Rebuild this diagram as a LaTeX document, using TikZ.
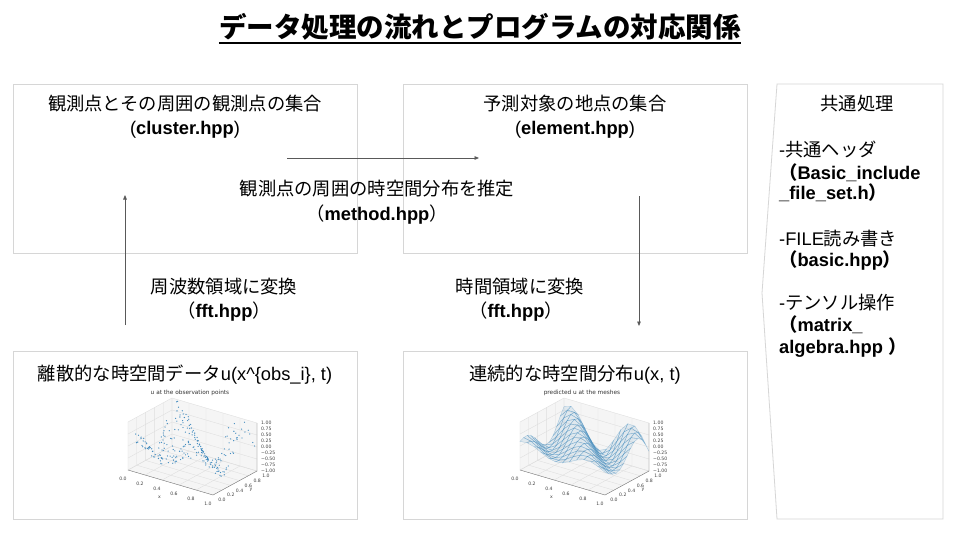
\documentclass[tikz,border=0pt]{standalone}
\usepackage{fontspec}
\setmainfont{Liberation Sans}
\newfontfamily\jp{Noto Sans CJK JP}
\newfontfamily\plotfont{DejaVu Sans}
\usetikzlibrary{arrows.meta}

\definecolor{c0}{HTML}{1F77B4}
\definecolor{boxgray}{HTML}{D6D6D6}
\definecolor{arrgray}{HTML}{595959}

% frame of a 3-D axes box: panes, grid, axis lines and tick labels
\newcommand\plotframe[1]{%
  \fill[pane] (0,0,-1) -- (1,0,-1) -- (1,1,-1) -- (0,1,-1) -- cycle;
  \fill[pane] (0,0,-1) -- (0,1,-1) -- (0,1,1) -- (0,0,1) -- cycle;
  \fill[pane] (0,1,-1) -- (1,1,-1) -- (1,1,1) -- (0,1,1) -- cycle;
  \foreach \t in {0,0.2,0.4,0.6,0.8,1}{%
    \draw[gridl] (\t,0,-1) -- (\t,1,-1) -- (\t,1,1);
    \draw[gridl] (0,\t,1) -- (0,\t,-1) -- (1,\t,-1);
  }
  \foreach \t in {-1,-0.5,0,0.5,1}{%
    \draw[gridl] (0,0,\t) -- (0,1,\t) -- (1,1,\t);
  }
  \draw[axl] (0,0,-1) -- (1,0,-1) -- (1,1,-1) -- (1,1,1);
  \foreach \t/\l [count=\k] in {0/0.0,0.2/0.2,0.4/0.4,0.6/0.6,0.8/0.8,1/1.0}{%
    \node[tick, xshift=-5pt, yshift=-9pt] (#1xt\k) at (\t,0,-1) {\l};
    \node[tick, xshift=9pt, yshift=-5pt] (#1yt\k) at (1,\t,-1) {\l};
  }
  \foreach \v/\l [count=\k] in {1/1.00,0.75/0.75,0.5/0.50,0.25/0.25,0/0.00,
      -0.25/−0.25,-0.5/−0.50,-0.75/−0.75,-1/−1.00}{%
    \node[tick, anchor=west, xshift=4pt] (#1zt\k) at (1,1,\v) {\l};
  }
  \node[tick, xshift=-11pt, yshift=-15pt] (#1xl) at (0.5,0,-1) {x};
  \node[tick, xshift=16pt, yshift=-7pt] (#1yl) at (1,0.5,-1) {y};
}

\begin{document}
\begin{tikzpicture}[x=1pt,y=-1pt,
  box/.style={draw=boxgray, line width=0.8pt},
  lbl/.style={inner sep=0pt, anchor=base, font=\fontsize{18.3}{22}\selectfont},
  lblw/.style={lbl, anchor=base west},
  arr/.style={draw=arrgray, line width=0.75pt, -{Triangle[length=4.5pt,width=3.6pt]}},
  pane/.style={fill=black!4},
  gridl/.style={draw=black!13, line width=0.35pt},
  axl/.style={draw=black!55, line width=0.35pt},
  tick/.style={inner sep=0pt, font=\plotfont\fontsize{4.6}{5}\selectfont, text=black!75},
  ptitle/.style={inner sep=0pt, font=\plotfont\fontsize{5.8}{6}\selectfont, text=black!80},
  dot/.style={fill=c0!85},
  surf/.style={fill=c0, fill opacity=0.1, draw=c0, draw opacity=0.32, line width=0.35pt},
  declare function={uf(\x,\y)=(0.3+0.7*\y)*sin(360*(1.377*\x+\y-0.838));
                    sf(\x,\y)=0.75*uf(\x,\y);},
  plot3d/.style={x={(85pt,-25pt)}, y={(44pt,24pt)}, z={(0pt,24pt)}}
]
\useasboundingbox (0,0) rectangle (960,540);
\fill[white] (0,0) rectangle (960,540);

% title
\node[inner sep=0pt, anchor=base, font=\jp\bfseries\fontsize{27.5}{30}\selectfont]
  (title) at (480,38) {データ処理の流れとプログラムの対応関係};
\draw[line width=1.7pt] ([yshift=-5pt]title.base west) -- ([yshift=-5pt]title.base east);

% the four stage boxes
\node[box, anchor=north west, minimum width=344, minimum height=169] (cluster) at (13,84) {};
\node[box, anchor=north west, minimum width=344, minimum height=169] (element) at (403,84) {};
\node[box, anchor=north west, minimum width=344, minimum height=168] (discrete) at (13,351) {};
\node[box, anchor=north west, minimum width=344, minimum height=168] (contin) at (403,351) {};

% common-processing column
\draw[box] (777,84) -- (943,84) -- (943,519) -- (777,519) -- (762,293) -- cycle;

% box titles
\node[lbl] (t1a) at (185,111) {\jp 観測点とその周囲の観測点の集合};
\node[lbl] (t1b) at (185,135) {(\textbf{cluster.hpp})};
\node[lbl] (t2a) at (575,111) {\jp 予測対象の地点の集合};
\node[lbl] (t2b) at (575,135) {(\textbf{element.hpp})};
\node[lbl] (t3) at (185,380) {{\jp 離散的な時空間データ}u(x\textasciicircum\{obs\_i\}, t)};
\node[lbl] (t4) at (575,380) {{\jp 連続的な時空間分布}u(x, t)};

% transformation labels
\node[lbl] (m1) at (377,195) {\jp 観測点の周囲の時空間分布を推定};
\node[lbl] (m2) at (377,220) {{\jp （}\textbf{method.hpp}{\jp ）}};
\node[lbl] (f1) at (224,293) {\jp 周波数領域に変換};
\node[lbl] (f2) at (224,317) {{\jp （}\textbf{fft.hpp}{\jp ）}};
\node[lbl] (g1) at (520,293) {\jp 時間領域に変換};
\node[lbl] (g2) at (516,317) {{\jp （}\textbf{fft.hpp}{\jp ）}};

% column text
\node[lbl] (c0) at (857,111) {\jp 共通処理};
\node[lblw] (c1) at (779,157) {-{\jp 共通ヘッダ}};
\node[lblw] (c2) at (779,179) {{\jp\bfseries （}\textbf{Basic\_include}};
\node[lblw] (c3) at (779,200) {\textbf{\_file\_set.h}{\jp\bfseries ）}};
\node[lblw] (c4) at (779,245) {-FILE{\jp 読み書き}};
\node[lblw] (c5) at (779,266) {{\jp\bfseries （}\textbf{basic.hpp}{\jp\bfseries ）}};
\node[lblw] (c6) at (779,309) {-{\jp テンソル操作}};
\node[lblw] (c7) at (779,331) {{\jp\bfseries （}\textbf{matrix\_}};
\node[lblw] (c8) at (779,353) {\textbf{algebra.hpp }{\jp\bfseries ）}};

% flow arrows
\coordinate (upS) at (125,325);
\coordinate (upE) at (125,195);
\coordinate (rtS) at (287,158);
\coordinate (rtE) at (479,158);
\coordinate (dnS) at (639,196);
\coordinate (dnE) at (639,326);
\draw[arr] (upS) -- (upE);
\draw[arr] (rtS) -- (rtE);
\draw[arr] (dnS) -- (dnE);

% scatter plot of the observations
\node[ptitle] (p1t) at (190,393) {u at the observation points};
\begin{scope}[shift={(128pt,-446pt)}, plot3d]
  \plotframe{a}
  \pgfmathsetseed{11}
  \foreach \i in {1,...,240}{%
    \pgfmathsetmacro\px{rnd}
    \pgfmathsetmacro\py{rnd}
    \pgfmathsetmacro\pz{max(-1,min(1,uf(\px,\py)+0.06*rand))}
    \fill[dot] (\px,\py,\pz) circle (0.65pt);
  }
\end{scope}

% predicted surface on the mesh
\node[ptitle] (p2t) at (582,393) {predicted u at the meshes};
\begin{scope}[shift={(520pt,-446pt)}, plot3d]
  \plotframe{b}
  \foreach \j in {11,...,0}{%
    \foreach \i in {0,...,11}{%
      \pgfmathsetmacro\xa{\i/12}
      \pgfmathsetmacro\xb{(\i+1)/12}
      \pgfmathsetmacro\ya{\j/12}
      \pgfmathsetmacro\yb{(\j+1)/12}
      \pgfmathsetmacro\za{sf(\xa,\ya)}
      \pgfmathsetmacro\zb{sf(\xb,\ya)}
      \pgfmathsetmacro\zc{sf(\xb,\yb)}
      \pgfmathsetmacro\zd{sf(\xa,\yb)}
      \filldraw[surf] (\xa,\ya,\za) -- (\xb,\ya,\zb) -- (\xb,\yb,\zc) -- (\xa,\yb,\zd) -- cycle;
    }
  }
\end{scope}
\end{tikzpicture}
\end{document}
